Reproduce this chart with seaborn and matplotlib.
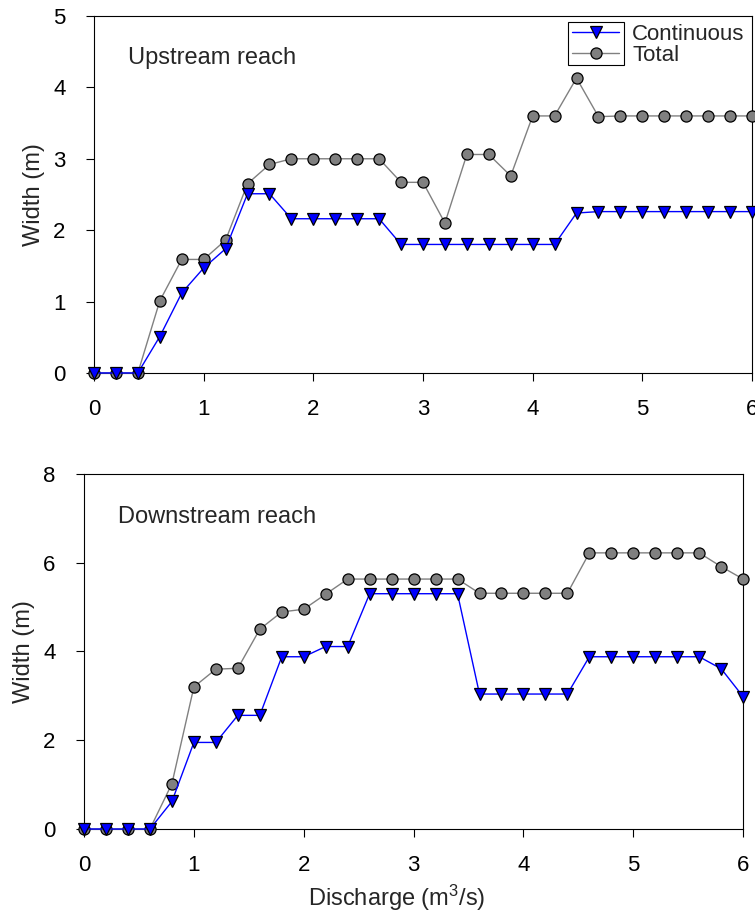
import numpy as np
import pandas as pd
import matplotlib
matplotlib.use("Agg")
import matplotlib.pyplot as plt
from matplotlib.patches import Rectangle
import seaborn as sns

# Datos
discharge = [0.0, 0.2, 0.4, 0.6, 0.8, 1.0, 1.2, 1.4, 1.6, 1.8, 2.0, 2.2, 2.4, 2.6, 2.8, 3.0,
             3.2, 3.4, 3.6, 3.8, 4.0, 4.2, 4.4, 4.6, 4.8, 5.0, 5.2, 5.4, 5.6, 5.8, 6.0]

up_continuous = [0, 0, 0, 0.51, 1.12, 1.47, 1.74, 2.51, 2.51, 2.16, 2.16, 2.16, 2.16, 2.16, 1.80, 1.80,
                 1.80, 1.80, 1.80, 1.80, 1.80, 1.80, 2.24, 2.26, 2.26, 2.26, 2.26, 2.26, 2.26, 2.26, 2.26]
up_total = [0, 0, 0, 1.01, 1.59, 1.59, 1.86, 2.65, 2.92, 3.0, 3.0, 3.0, 3.0, 3.0, 2.67, 2.67,
            2.10, 3.06, 3.06, 2.76, 3.60, 3.60, 4.13, 3.59, 3.60, 3.60, 3.60, 3.60, 3.60, 3.60, 3.60]

down_continuous = [0, 0, 0, 0, 0.62, 1.95, 1.95, 2.56, 2.56, 3.88, 3.88, 4.11, 4.11, 5.30, 5.30, 5.30,
                   5.30, 5.30, 3.04, 3.04, 3.04, 3.04, 3.04, 3.88, 3.88, 3.88, 3.88, 3.88, 3.88, 3.61, 2.98]
down_total = [0, 0, 0, 0, 1.02, 3.20, 3.60, 3.62, 4.50, 4.89, 4.95, 5.29, 5.63, 5.63, 5.63, 5.63,
              5.63, 5.63, 5.31, 5.31, 5.31, 5.31, 5.31, 6.22, 6.22, 6.22, 6.22, 6.22, 6.22, 5.91, 5.63]

panels = [
    ("Upstream reach", up_continuous, up_total, 5, 1),
    ("Downstream reach", down_continuous, down_total, 8, 2),
]

sns.set_style("ticks")
plt.rcParams['font.family'] = ['Liberation Sans', 'DejaVu Sans']
plt.rcParams['mathtext.fontset'] = 'custom'
plt.rcParams['mathtext.rm'] = 'Liberation Sans'
plt.rcParams['mathtext.it'] = 'Liberation Sans:italic'

fig = plt.figure(figsize=(7.55, 9.13), dpi=100)
ax_top = fig.add_axes([0.1245, 0.5915, 0.8715, 0.391])
ax_bot = fig.add_axes([0.1113, 0.092, 0.873, 0.389])

for ax, (title, cont, tot, ymax, ystep) in zip([ax_top, ax_bot], panels):
    df = pd.DataFrame({'Q': discharge, 'Continuous': cont, 'Total': tot})
    sns.lineplot(data=df, x='Q', y='Total', ax=ax, color='#808080', lw=1.0,
                 marker='o', markersize=8, markerfacecolor='#808080',
                 markeredgecolor='black', markeredgewidth=0.9, clip_on=False,
                 label='Total', zorder=3)
    sns.lineplot(data=df, x='Q', y='Continuous', ax=ax, color='#0000ff', lw=1.0,
                 marker='v', markersize=8, markerfacecolor='#0000ff',
                 markeredgecolor='black', markeredgewidth=0.9, clip_on=False,
                 label='Continuous', zorder=4)
    ax.set_xlim(0, 6)
    ax.set_ylim(0, ymax)
    ax.set_xticks(range(0, 7))
    ax.set_yticks(np.arange(0, ymax + 0.1, ystep))
    ax.tick_params(direction='out', length=5.5, width=0.8, labelsize=16, colors='black')
    ax.tick_params(axis='x', pad=13)
    ax.tick_params(axis='y', pad=15)
    for s in ax.spines.values():
        s.set_visible(True)
        s.set_linewidth(0.8)
        s.set_color('black')
    ax.set_ylabel('Width (m)', fontsize=17, labelpad=6)
    ax.set_xlabel('')
    ax.text(0.052, 0.882 if ax is ax_top else 0.879, title, transform=ax.transAxes,
            fontsize=17, va='center', ha='left')
    ax.get_legend().remove()

ax_bot.set_xlabel('Discharge (m$^3$/s)', fontsize=17, labelpad=5)
ax_bot.xaxis.label.set_x(0.474)

# Leyenda estilo SigmaPlot (marco solo alrededor de los simbolos)
h, l = ax_top.get_legend_handles_labels()
order = [l.index('Continuous'), l.index('Total')]
leg = ax_top.legend([h[i] for i in order], [l[i] for i in order], loc='upper left',
                    bbox_to_anchor=(0.727, 0.978), frameon=False, fontsize=16,
                    handlelength=2.1, handletextpad=0.6, labelspacing=0.0,
                    borderpad=0, borderaxespad=0)
ax_top.add_patch(Rectangle((0.720, 0.863), 0.085, 0.12, transform=ax_top.transAxes,
                           fill=False, edgecolor='black', lw=0.8, clip_on=False))

plt.savefig('out.png', dpi=100)
plt.close()
